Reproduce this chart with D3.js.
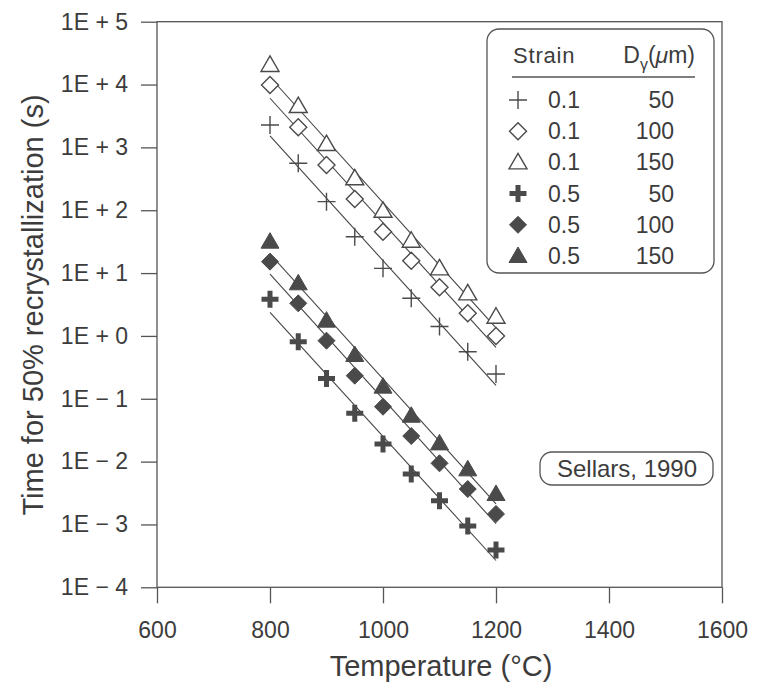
<!DOCTYPE html>
<html>
<head>
<meta charset="utf-8">
<script src="https://cdn.jsdelivr.net/npm/d3@7"></script>
<style>
	body { margin: 0; background: #fff; }
	svg text { font-family: "Liberation Sans", Arial, sans-serif; fill: #3c3c3c; }
</style>
</head>
<body>
<svg id="chart" width="760" height="685"></svg>
<script>
// temperatures (°C) where t50 was computed
const temps = [800, 850, 900, 950, 1000, 1050, 1100, 1150, 1200];

// time for 50% recrystallization (s)
const t01_50 = [2270, 558, 137, 37.9, 11.9, 3.97, 1.41, 0.56, 0.248];
const t01_100 = [9840, 2090, 525, 151, 45.5, 15.7, 5.93, 2.29, 1.0];
const t01_150 = [20500, 4550, 1130, 322, 98, 32.7, 11.9, 4.76, 2.02];
const t05_50 = [3.82, 0.81, 0.211, 0.0586, 0.019, 0.00634, 0.00238, 0.000944, 0.000392];
const t05_100 = [15.2, 3.30, 0.84, 0.233, 0.0747, 0.0255, 0.0094, 0.00366, 0.00147];
const t05_150 = [31.6, 6.87, 1.75, 0.497, 0.156, 0.0537, 0.0195, 0.00753, 0.00305];

const strains = ["0.1", "0.1", "0.1", "0.5", "0.5", "0.5"];
const grainSizes = ["50", "100", "150", "50", "100", "150"];

const xTicks = [600, 800, 1000, 1200, 1400, 1600];
const yTicks = [1e-4, 1e-3, 1e-2, 1e-1, 1e0, 1e1, 1e2, 1e3, 1e4, 1e5];

const series = [t01_50, t01_100, t01_150, t05_50, t05_100, t05_150];
const markerKind = ["plus", "diamond", "triangle", "boldplus", "fdiamond", "ftriangle"];

const plotLeft = 157, plotRight = 722, plotTop = 21.7, plotBottom = 587.3;
const ink = "#4a4a4a";

let svg = d3.select("#chart");

let x = d3.scaleLinear().domain([600, 1600]).range([plotLeft, plotRight]);
let y = d3.scaleLog().domain([1e-4, 1e5]).range([plotBottom, plotTop]);

function tickLabel(v) {
	let e = Math.round(Math.log10(v));
	let sign = e < 0 ? "\u2212" : "+";
	return "1E " + sign + " " + Math.abs(e);
}

// least squares line of log10(t) against T, evaluated at the end temperatures
function fitLine(values) {
	let ly = values.map(Math.log10);
	let mx = d3.mean(temps);
	let my = d3.mean(ly);
	let slope = d3.sum(temps, function(t, i) { return (t - mx) * (ly[i] - my); }) /
		d3.sum(temps, function(t) { return (t - mx) * (t - mx); });
	let ends = [temps[0], temps[temps.length - 1]];
	return ends.map(function(t) { return [t, Math.pow(10, my + slope * (t - mx))]; });
}

// marker drawing, size in pixels
function markerPath(kind) {
	if (kind === "plus") return "M-9,0H9M0,-9V9";
	if (kind === "boldplus") return "M-8.5,0H8.5M0,-8.5V8.5";
	if (kind === "diamond" || kind === "fdiamond") return "M0,-8.5L8.5,0L0,8.5L-8.5,0Z";
	return "M0,-9L9,6.5H-9Z";
}

function styleMarker(sel, kind) {
	if (kind === "plus") {
		sel.attr("fill", "none").attr("stroke", ink).attr("stroke-width", 1.4);
	} else if (kind === "boldplus") {
		sel.attr("fill", "none").attr("stroke", ink).attr("stroke-width", 5);
	} else if (kind === "diamond" || kind === "triangle") {
		sel.attr("fill", "#fff").attr("stroke", ink).attr("stroke-width", 1.4);
	} else {
		sel.attr("fill", ink).attr("stroke", ink).attr("stroke-width", 1);
	}
}

// frame
svg.append("rect")
	.attr("x", plotLeft).attr("y", plotTop)
	.attr("width", plotRight - plotLeft).attr("height", plotBottom - plotTop)
	.attr("fill", "none").attr("stroke", "#555").attr("stroke-width", 1.3);

// axes
let yAxis = svg.append("g")
	.attr("transform", "translate(" + plotLeft + ",0)")
	.call(d3.axisLeft(y).tickValues(yTicks).tickFormat(tickLabel).tickSize(16).tickPadding(13));
let xAxis = svg.append("g")
	.attr("transform", "translate(0," + plotBottom + ")")
	.call(d3.axisBottom(x).tickValues(xTicks).tickFormat(d3.format("d")).tickSize(16).tickPadding(18));

[xAxis, yAxis].forEach(function(g) {
	g.select(".domain").remove();
	g.selectAll(".tick line").attr("stroke", "#555").attr("stroke-width", 1.3);
	g.selectAll(".tick text")
		.attr("fill", "#3c3c3c")
		.style("font-size", "23px")
		.style("font-family", "'Liberation Sans', Arial, sans-serif");
});

// axis titles
svg.append("text")
	.attr("x", 441).attr("y", 676)
	.attr("text-anchor", "middle")
	.style("font-size", "29px")
	.text("Temperature (\u00b0C)");

svg.append("text")
	.attr("transform", "translate(43,305) rotate(-90)")
	.attr("text-anchor", "middle")
	.style("font-size", "29px")
	.text("Time for 50% recrystallization (s)");

// regression lines
let line = d3.line()
	.x(function(d) { return x(d[0]); })
	.y(function(d) { return y(d[1]); });

svg.append("g")
	.selectAll("path")
	.data(series.map(fitLine))
	.enter()
	.append("path")
	.attr("d", line)
	.attr("fill", "none")
	.attr("stroke", "#444")
	.attr("stroke-width", 1.1);

// markers
series.forEach(function(values, s) {
	let g = svg.append("g");
	let marks = g.selectAll("path")
		.data(values)
		.enter()
		.append("path")
		.attr("d", markerPath(markerKind[s]))
		.attr("transform", function(d, i) {
			return "translate(" + x(temps[i]) + "," + y(d) + ")";
		});
	styleMarker(marks, markerKind[s]);
});

// legend
let legend = svg.append("g");
legend.append("rect")
	.attr("x", 487).attr("y", 29)
	.attr("width", 227).attr("height", 244)
	.attr("rx", 12)
	.attr("fill", "#fff").attr("stroke", "#555").attr("stroke-width", 1.3);

legend.append("text")
	.attr("x", 513).attr("y", 63)
	.style("font-size", "22px")
	.style("letter-spacing", "0.8px")
	.text("Strain");

let dHead = legend.append("text")
	.attr("x", 695).attr("y", 63)
	.attr("text-anchor", "end")
	.style("font-size", "23px");
dHead.append("tspan").text("D");
dHead.append("tspan").attr("dy", 7).style("font-size", "16px").text("\u03b3");
dHead.append("tspan").attr("dy", -7).text("(");
dHead.append("tspan").style("font-style", "italic").text("\u03bc");
dHead.append("tspan").text("m)");

legend.append("line")
	.attr("x1", 512).attr("x2", 695)
	.attr("y1", 77).attr("y2", 77)
	.attr("stroke", "#555").attr("stroke-width", 1.3);

let rows = legend.selectAll(".row")
	.data(strains)
	.enter()
	.append("g")
	.attr("class", "row")
	.attr("transform", function(d, i) {
		return "translate(0," + (100 + i * 31.2) + ")";
	});

rows.each(function(d, i) {
	let row = d3.select(this);
	let m = row.append("path")
		.attr("d", markerPath(markerKind[i]))
		.attr("transform", "translate(518,0)");
	styleMarker(m, markerKind[i]);
	row.append("text")
		.attr("x", 548).attr("y", 8)
		.style("font-size", "23px")
		.text(d);
	row.append("text")
		.attr("x", 674).attr("y", 8)
		.attr("text-anchor", "end")
		.style("font-size", "23px")
		.text(grainSizes[i]);
});

// source note
svg.append("rect")
	.attr("x", 540).attr("y", 452)
	.attr("width", 173).attr("height", 33)
	.attr("rx", 12)
	.attr("fill", "#fff").attr("stroke", "#555").attr("stroke-width", 1.3);
svg.append("text")
	.attr("x", 627).attr("y", 477)
	.attr("text-anchor", "middle")
	.style("font-size", "24px")
	.text("Sellars, 1990");
</script>
</body>
</html>
